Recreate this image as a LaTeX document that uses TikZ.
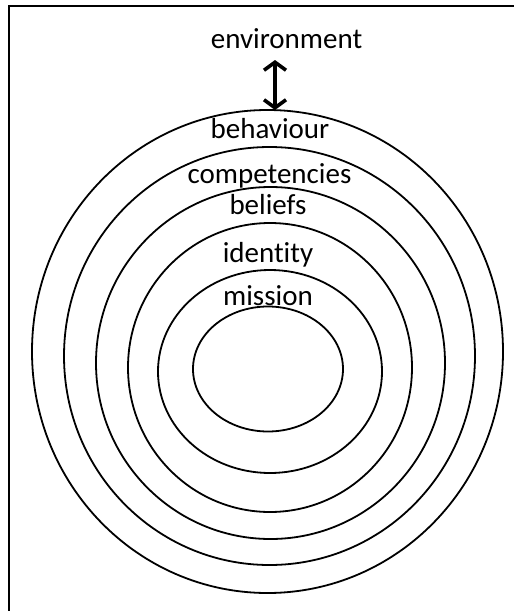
\documentclass[tikz,border=0pt]{standalone}
\usepackage{fontspec}
\setmainfont{Carlito}[Ligatures=NoCommon]
\usetikzlibrary{shapes.geometric,arrows.meta}

\begin{document}
\begin{tikzpicture}[
    x=1pt, y=-1pt,
    ring/.style={draw, ellipse, line width=1.8pt, inner sep=0pt, outer sep=0pt},
    level/.style={anchor=base, inner sep=0pt, font=\fontsize{29}{34}\selectfont}
  ]
    \useasboundingbox (0,0) rectangle (514,611);
    \clip (0,0) rectangle (514,611);

    % frame, cut off at the right and at the bottom
    \draw[line width=2.5pt] (9,620) -- (9,6) -- (520,6);

    % Rings
    \node[ring, minimum width=471pt, minimum height=483pt] (ringbehaviour) at (267.5,351.5) {};
    \node[ring, minimum width=411pt, minimum height=418pt] (ringcompetencies) at (269.5,356) {};
    \node[ring, minimum width=349pt, minimum height=352pt] (ringbeliefs) at (270.5,363) {};
    \node[ring, minimum width=284pt, minimum height=289pt] (ringidentity) at (270,367.5) {};
    \node[ring, minimum width=224pt, minimum height=203pt] (ringmission) at (270,371.5) {};
    \node[ring, minimum width=150pt, minimum height=125pt] (core) at (268,369) {};

    % Labels
    \node[level] (environment) at (286.5,48) {environment};
    \node[level] (behaviour) at (270,138) {behaviour};
    \node[level] (competencies) at (269.5,183) {competencies};
    \node[level] (beliefs) at (268,214) {beliefs};
    \node[level] (identity) at (268,262) {identity};
    \node[level] (mission) at (268,305) {mission};

    % Environment link
    \coordinate (envlink) at (275,60);
    \draw[line width=3.6pt, {Straight Barb[length=8pt,width=22pt]}-{Straight Barb[length=8pt,width=22pt]}]
      (envlink) -- (envlink |- ringbehaviour.north);
  \end{tikzpicture}
\end{document}
